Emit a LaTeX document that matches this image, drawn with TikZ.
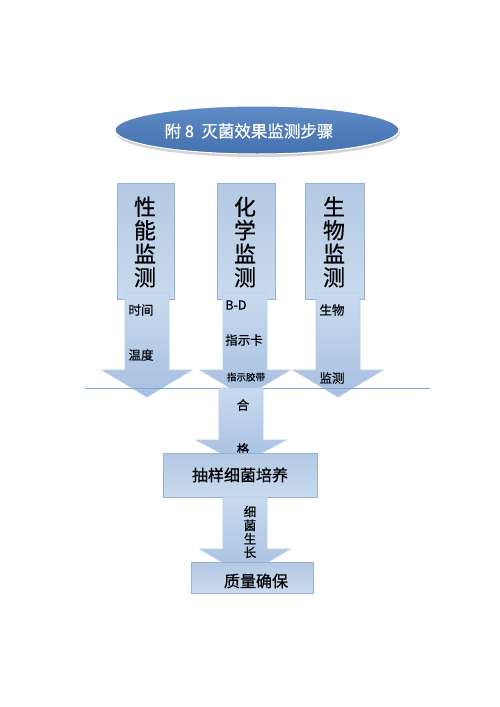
\documentclass[tikz,border=0pt]{standalone}
\usepackage{fontspec}
\newfontfamily\cjk[FakeBold=0.6]{Noto Sans CJK SC}
\usetikzlibrary{shadows,shapes.geometric}
\definecolor{boxline}{HTML}{95B3D7}
\definecolor{boxtop}{HTML}{B3C9E3}
\definecolor{boxbot}{HTML}{C9DAEE}
\definecolor{arrtop}{HTML}{C8DAF0}
\definecolor{arrbot}{HTML}{A6C0E0}
\definecolor{elltop}{HTML}{5F8BC6}
\definecolor{ellbot}{HTML}{4472B0}
\definecolor{hline}{HTML}{7FA6D6}
\tikzset{
  stepbox/.style={draw=boxline, line width=0.8pt, top color=boxtop, bottom color=boxbot},
  blockarr/.style={draw=arrbot!80!white, line width=0.6pt, top color=arrtop, bottom color=arrbot},
  bigtxt/.style={font=\cjk\fontsize{22}{23.5}\selectfont, align=center, inner sep=0pt},
  smtxt/.style={font=\cjk\fontsize{12.5}{14}\selectfont, inner sep=0pt},
  midtxt/.style={font=\cjk\fontsize{16}{18}\selectfont, inner sep=0pt},
}
% #1 center x, #2 top y, #3 shaft half width, #4 head half width, #5 wing y, #6 tip y
\newcommand\myblockarrow[6]{%
  \path[blockarr] (#1-#3,#2) -- (#1+#3,#2) -- (#1+#3,#5) -- (#1+#4,#5) -- (#1,#6)
    -- (#1-#4,#5) -- (#1-#3,#5) -- cycle;}
\begin{document}
\begin{tikzpicture}[x=1pt,y=-1pt]
\useasboundingbox (0,0) rectangle (500,707);
% title
\node[ellipse, minimum width=284pt, minimum height=48pt, inner sep=0pt,
      draw=white, line width=1pt, top color=elltop, bottom color=ellbot,
      drop shadow={shadow xshift=1pt, shadow yshift=-3pt, opacity=0.35}]
  (title) at (257,130) {};
\node[font=\cjk\fontsize{16.5}{18}\selectfont, text=white] (titletxt) at (249,131) {附 8\ \ 灭菌效果监测步骤};
% three boxes
\path[stepbox] (117,183) rectangle (174,299);
\path[stepbox] (217,183) rectangle (275,299);
\path[stepbox] (305,183) rectangle (364,299);
\node[bigtxt] (b1) at (145,242) {性\\能\\监\\测};
\node[bigtxt] (b2) at (245,242) {化\\学\\监\\测};
\node[bigtxt] (b3) at (334,242) {生\\物\\监\\测};
% three arrows
\myblockarrow{147}{293}{22}{45}{370}{397}
\myblockarrow{245}{293}{22}{45}{370}{397}
\myblockarrow{338}{293}{22}{45}{370}{397}
\node[smtxt] (t1) at (141,310) {时间};
\node[smtxt] (t2) at (141,355) {温度};
\node[smtxt] (t3) at (236,305) {B-D};
\node[smtxt] (t4) at (244,340) {指示卡};
\node[font=\cjk\fontsize{9.5}{11}\selectfont, inner sep=0pt] (t5) at (246,377) {指示胶带};
\node[smtxt] (t6) at (332,310) {生物};
\node[smtxt] (t7) at (332,378) {监测};
% horizontal line
\coordinate (hl) at (85,388);
\coordinate (hr) at (430,388);
\draw[hline, line width=0.8pt] (hl) -- (hr);
% lower arrow 1
\myblockarrow{241}{388}{22}{45}{440}{464}
\node[smtxt] (t8) at (243,405) {合};
\node[smtxt] (t9) at (243,449) {格};
% culture box
\node[stepbox, minimum width=154pt, minimum height=44pt, inner sep=0pt] (culture) at (240,475) {};
\node[midtxt] (culturetxt) at (240,475) {抽样细菌培养};
% lower arrow 2
\myblockarrow{245}{497}{22}{45}{549}{576}
\node[font=\cjk\fontsize{12.5}{13.6}\selectfont, align=center, inner sep=0pt] (t10) at (250,532) {细\\菌\\生\\长};
% final box
\node[stepbox, minimum width=122pt, minimum height=31pt, inner sep=0pt] (qa) at (252,577.5) {};
\node[midtxt] (qatxt) at (256,581) {质量确保};
\end{tikzpicture}
\end{document}
